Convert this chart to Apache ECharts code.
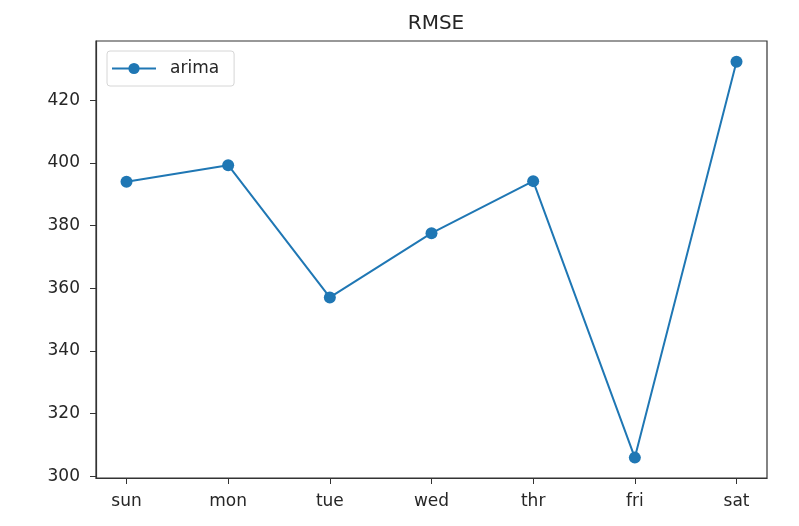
<!DOCTYPE html>
<html>
<head>
<meta charset="utf-8">
<script src="https://cdn.jsdelivr.net/npm/echarts@6/dist/echarts.min.js"></script>
<style>
  html, body { margin: 0; padding: 0; background: #fff; }
  #chart { width: 799px; height: 526px; }
</style>
</head>
<body>
<div id="chart"></div>
<script>
// Days of the week and the ARIMA error for each
const days = ['sun', 'mon', 'tue', 'wed', 'thr', 'fri', 'sat'];
const arimaRmse = [394.0, 399.3, 357.1, 377.6, 394.2, 306.0, 432.3];
const yTicks = [300, 320, 340, 360, 380, 400, 420];

const FONT = '"DejaVu Sans", sans-serif';
const INK = '#262626';
const BLUE = '#1f77b4';
const dayIdx = days.map((_, i) => i);

const chart = echarts.init(document.getElementById('chart'), null, { renderer: 'canvas' });
chart.setOption({
  animation: false,
  backgroundColor: '#fff',
  title: {
    text: 'RMSE',
    left: 431, top: 9, textAlign: 'center',
    textStyle: { fontFamily: FONT, fontSize: 20, fontWeight: 'normal', color: INK }
  },
  legend: {
    left: 107, top: 51,
    padding: [9, 15, 9, 4],
    itemWidth: 44, itemHeight: 14, itemGap: 10,
    backgroundColor: '#fff',
    borderColor: '#d6d6d6', borderWidth: 1, borderRadius: 3,
    textStyle: { fontFamily: FONT, fontSize: 17, color: INK, padding: [0, 0, 0, 9] },
    data: ['arima']
  },
  grid: {
    left: 96, right: 32, top: 41, bottom: 48,
    show: true, borderColor: '#333', borderWidth: 1.2, backgroundColor: '#fff'
  },
  xAxis: {
    type: 'value', min: -0.3, max: 6.3,
    splitLine: { show: false },
    axisLine: { show: true, onZero: false, lineStyle: { color: '#333', width: 1.2 } },
    axisTick: { show: true, customValues: dayIdx, length: 6, lineStyle: { color: '#333' } },
    axisLabel: {
      customValues: dayIdx, margin: 15,
      fontFamily: FONT, fontSize: 17, color: INK,
      formatter: v => days[Math.round(v)]
    }
  },
  yAxis: {
    type: 'value', min: 299.5, max: 438.9,
    splitLine: { show: false },
    axisLine: { show: true, onZero: false, lineStyle: { color: '#333', width: 1.2 } },
    axisTick: { show: true, customValues: yTicks, length: 6, lineStyle: { color: '#333' } },
    axisLabel: {
      customValues: yTicks, margin: 16,
      fontFamily: FONT, fontSize: 17, color: INK
    }
  },
  series: [{
    name: 'arima',
    type: 'line',
    data: arimaRmse.map((v, i) => [i, v]),
    symbol: 'circle', symbolSize: 12,
    itemStyle: { color: BLUE },
    lineStyle: { color: BLUE, width: 2 }
  }]
});
</script>
</body>
</html>
